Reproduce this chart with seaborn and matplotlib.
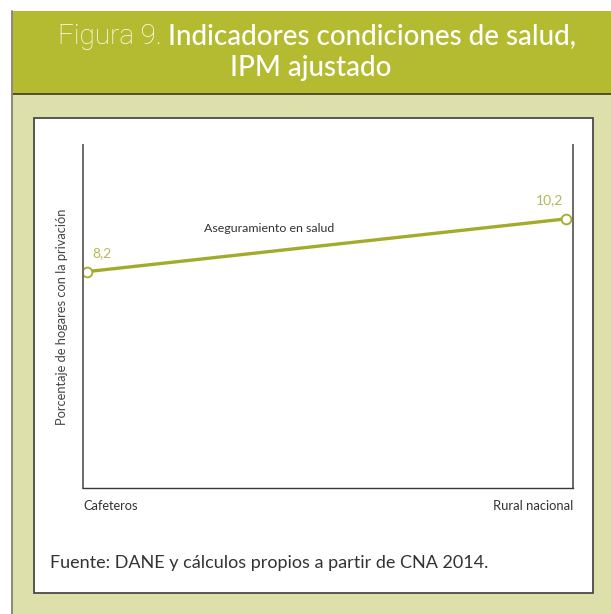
import matplotlib
matplotlib.use('Agg')
import matplotlib.pyplot as plt
from matplotlib.patches import Rectangle
from matplotlib.lines import Line2D
import seaborn as sns
import pandas as pd

# Data
grupos = ['Cafeteros', 'Rural nacional']
aseguramiento = [8.2, 10.2]
etiquetas = ['8,2', '10,2']
serie = 'Aseguramiento en salud'

W, H = 611, 614
OLIVE = '#b5bb31'
PALE = '#dde0ab'
LINE = '#a3ab2b'
LABEL = '#b4b957'

sns.set_theme(style='white')
plt.rcParams['font.family'] = ['Lato', 'DejaVu Sans']

fig = plt.figure(figsize=(W / 100, H / 100), dpi=100, facecolor='white')


def box(x0, y0, x1, y1, **kw):
   # pixel box (top-left origin) -> figure fraction
   r = Rectangle((x0 / W, 1 - y1 / H), (x1 - x0) / W, (y1 - y0) / H,
                 transform=fig.transFigure, **kw)
   fig.add_artist(r)


def hline(x0, x1, y, **kw):
   fig.add_artist(Line2D([x0 / W, x1 / W], [1 - y / H, 1 - y / H],
                         transform=fig.transFigure, **kw))


# frame: pale background, title band, white panel
box(12, 94, W + 2, H + 2, facecolor=PALE, edgecolor='none', zorder=0)
box(12, 11, W + 2, 94, facecolor=OLIVE, edgecolor='none', zorder=0)
hline(12, W, 94, color='#3a3a2a', lw=1.2, zorder=1)
fig.add_artist(Line2D([12 / W, 12 / W], [0, 1 - 11 / H], transform=fig.transFigure,
                      color='#8a8a78', lw=1.4, zorder=1))
box(34, 118, 593, 593, facecolor='white', edgecolor='#4a4a4a', lw=1.3, zorder=0.5)

# title, two weights on the first line
fig.canvas.draw()
r = fig.canvas.get_renderer()
t1 = fig.text(0, 1 - 36 / H, 'Figura 9. ', color='white', fontsize=20, fontweight='light',
              family=['Roboto', 'DejaVu Sans'], va='center', ha='left')
t2 = fig.text(0, 1 - 36 / H, 'Indicadores condiciones de salud,', color='white', fontsize=20,
              fontweight='medium', va='center', ha='left')
w1 = t1.get_window_extent(r).width
w2 = t2.get_window_extent(r).width
x_start = 58
t1.set_x(x_start / W)
t2.set_x((x_start + w1) / W)
fig.text(311 / W, 1 - 68 / H, 'IPM ajustado', color='white', fontsize=20,
         fontweight='medium', va='center', ha='center')

# chart
ax = fig.add_axes([83 / W, 1 - 488 / H, 490 / W, 343 / H])
ax.set_zorder(2)
ax.set_facecolor('white')
df = pd.DataFrame({'pos': [0, 1], 'valor': aseguramiento, 'grupo': grupos})
sns.lineplot(data=df, x='pos', y='valor', ax=ax, color=LINE, lw=2.4,
             marker='o', markersize=7, markerfacecolor='white',
             markeredgecolor=LINE, markeredgewidth=1.3)

ax.set_xlim(-0.008, 1.0146)
ax.set_ylim(0, 13)
ax.set_xticks([])
ax.set_yticks([])
ax.set_xlabel('')
ax.set_ylabel('Porcentaje de hogares con la privación', fontsize=9.3, color='#444444',
              labelpad=11)
for side in ['left', 'right']:
   ax.spines[side].set_color('#6a6a6a')
   ax.spines[side].set_linewidth(1.4)
ax.spines['bottom'].set_color('#3a3a3a')
ax.spines['bottom'].set_linewidth(1.0)
ax.spines['top'].set_visible(False)

offsets = [(11, 13.5), (-12, 13.5)]
for x, y, lab, off in zip(df.pos, df.valor, etiquetas, offsets):
   ax.annotate(lab, (x, y), xytext=off, textcoords='offset points', ha='center',
               va='center', fontsize=10, color=LABEL)

ax.text(0.38, 9.82, serie, fontsize=8.9, color='#333333', ha='center', va='center')

ax.text(0, -0.052, grupos[0], transform=ax.transAxes, fontsize=9.2, color='#333333',
        ha='left', va='center')
ax.text(1, -0.052, grupos[1], transform=ax.transAxes, fontsize=9.4, color='#333333',
        ha='right', va='center')

fig.text(50 / W, 1 - 563 / H, 'Fuente: DANE y cálculos propios a partir de CNA 2014.',
         fontsize=13, color='#333333', ha='left', va='center')

fig.savefig('out.png', dpi=100, facecolor='white')
